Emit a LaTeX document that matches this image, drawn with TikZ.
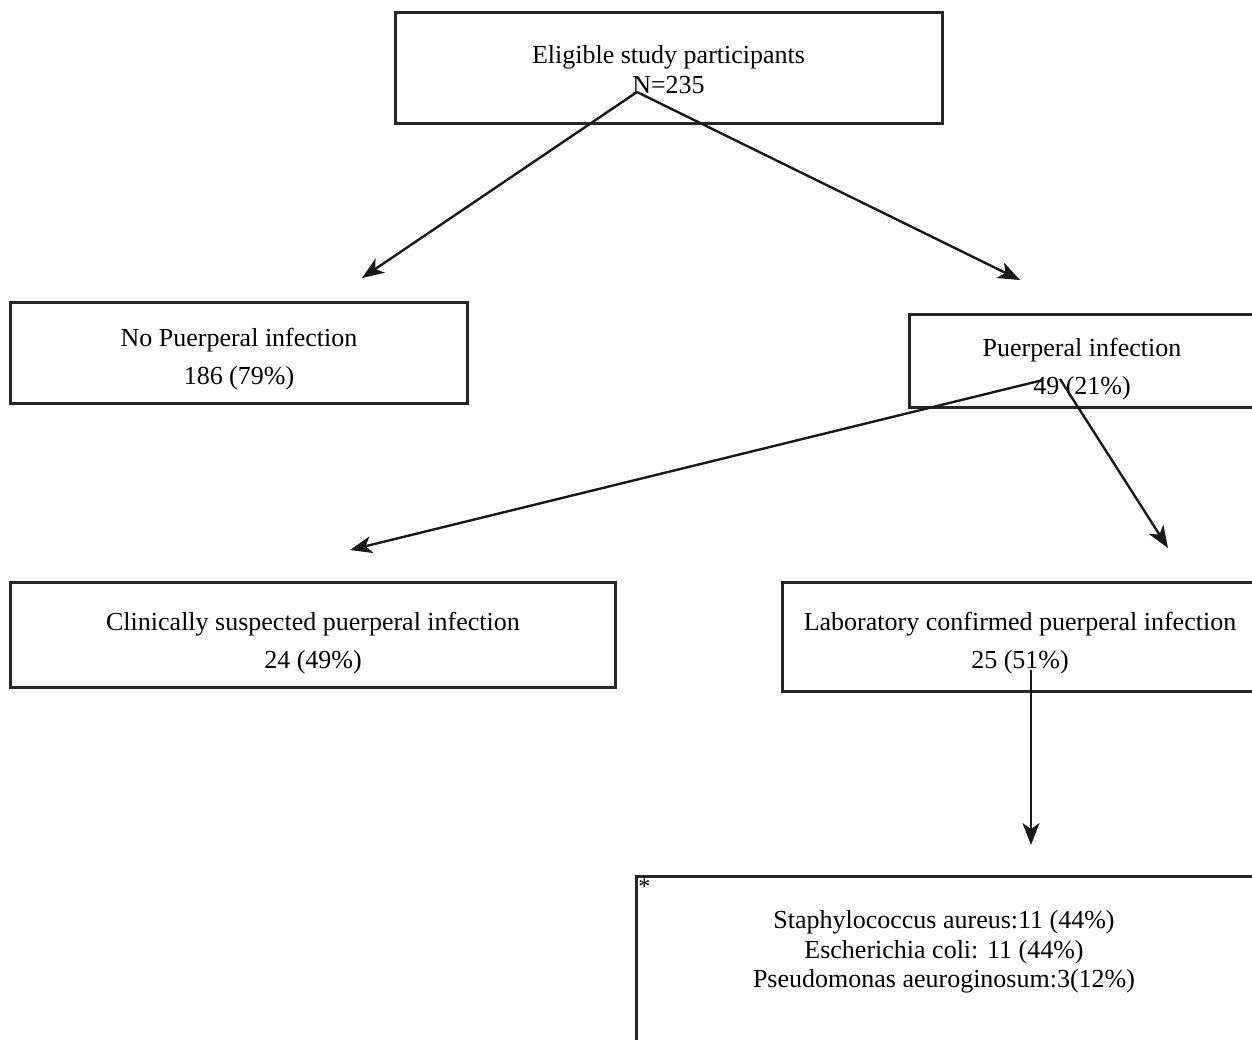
\documentclass[tikz,border=0pt]{standalone}
\usepackage{fontspec}
\setmainfont{Liberation Serif}
\usetikzlibrary{arrows.meta}

\begin{document}
\begin{tikzpicture}[x=0.5pt,y=-0.5pt,
  box/.style={draw=black!85,line width=1.5pt,inner sep=0pt},
  txt/.style={align=center,inner sep=0pt,font=\fontsize{13}{14.8}\selectfont},
  widetxt/.style={txt,font=\fontsize{13}{19}\selectfont},
  flow/.style={draw=black!90,line width=1.2pt,-{Stealth[length=11pt,width=8.5pt,inset=3pt]}}]

\useasboundingbox (0,0) rectangle (1252,1039);
\clip (0,0) rectangle (1252,1039);

% boxes
\node[box,minimum width=273.5pt,minimum height=55.5pt] (elig) at (668.5,67.5) {};
\node[box,minimum width=228.5pt,minimum height=50.5pt] (nopi) at (238.5,352.5) {};
\node[box,minimum width=173.5pt,minimum height=46.5pt] (pi) at (1082.5,360.5) {};
\node[box,minimum width=302.5pt,minimum height=52.5pt] (clin) at (312.5,634.5) {};
\node[box,minimum width=238pt,minimum height=54.5pt] (lab) at (1020,636.5) {};
\node[box,anchor=north west,minimum width=350pt,minimum height=120pt] (bact) at (635,875) {};

% texts
\node[txt] (eligtxt) at (668.5,69.5) {Eligible study participants\\N=235};
\node[widetxt] (nopitxt) at (239,359) {No Puerperal infection\\186 (79\%)};
\node[widetxt] (pitxt) at (1082,369.5) {Puerperal infection\\49 (21\%)};
\node[widetxt] (clintxt) at (313,643.5) {Clinically suspected puerperal infection\\24 (49\%)};
\node[widetxt] (labtxt) at (1020,643.5) {Laboratory confirmed puerperal infection\\25 (51\%)};
\node[anchor=north west,inner sep=1.5pt,font=\fontsize{12}{12}\selectfont] (star) at (bact.north west) {*};
\node[txt] (bacttxt) at (944,952)
  {Staphylococcus aureus:11 (44\%)\\Escherichia coli: 11 (44\%)\\Pseudomonas aeuroginosum:3(12\%)};

% arrow ends
\coordinate (eligout) at (637,92);
\coordinate (nopiin) at (362,278);
\coordinate (piin) at (1020,280);
\coordinate (piout1) at (1043,380);
\coordinate (clinin) at (350,550);
\coordinate (piout2) at (1060,379);
\coordinate (labin) at (1168,548);
\coordinate (labout) at (1031,670);
\coordinate (bactin) at (1031,845);

\draw[flow] (eligout) -- (nopiin);
\draw[flow] (eligout) -- (piin);
\draw[flow] (piout1) -- (clinin);
\draw[flow] (piout2) -- (labin);
\draw[flow] (labout) -- (bactin);

\end{tikzpicture}
\end{document}
